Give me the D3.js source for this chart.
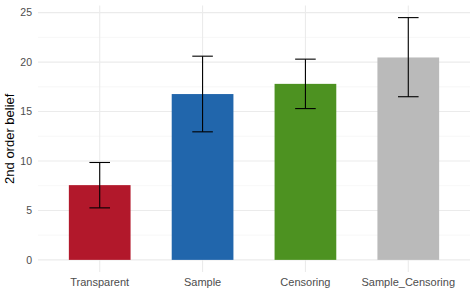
<!DOCTYPE html>
<html>
<head>
<meta charset="utf-8">
<script src="https://cdn.jsdelivr.net/npm/d3@7"></script>
<style>
  body { margin: 0; background: #fff; }
  svg { display: block; font-family: "Liberation Sans", Arial, sans-serif; }
</style>
</head>
<body>
<div id="chart"></div>
<script>
'use strict';

var categories = ['Transparent', 'Sample', 'Censoring', 'Sample_Censoring'];
var means = [7.56, 16.77, 17.8, 20.47];
var lower = [5.26, 12.95, 15.3, 16.5];
var upper = [9.85, 20.6, 20.3, 24.5];
var colors = ['#B2182B', '#2166AC', '#4D9221', '#BABABA'];
var yTicks = [0, 5, 10, 15, 20, 25];
var yMinor = [2.5, 7.5, 12.5, 17.5, 22.5];

var width = 476, height = 296;
var panel = { left: 38, right: 470, top: 5.5, bottom: 272 };

var svg = d3.select('#chart').append('svg')
	.attr('width', width)
	.attr('height', height);

// ggplot-style expansion: 5% on the continuous axis, 0.6 units on the discrete one
var yMax = d3.max(upper);
var yPad = yMax * 0.05;
var y = d3.scaleLinear()
	.domain([-yPad, yMax + yPad])
	.range([panel.bottom, panel.top]);

var x = d3.scaleLinear()
	.domain([0.4, categories.length + 0.6])
	.range([panel.left, panel.right]);

function cx(d, i) {
	return x(i + 1);
}

var grid = svg.append('g');

grid.selectAll('line.minor').data(yMinor).enter()
	.append('line')
	.attr('x1', panel.left).attr('x2', panel.right)
	.attr('y1', function (d) { return y(d); })
	.attr('y2', function (d) { return y(d); })
	.attr('stroke', '#F2F2F2')
	.attr('stroke-width', 0.6);

grid.selectAll('line.major').data(yTicks).enter()
	.append('line')
	.attr('x1', panel.left).attr('x2', panel.right)
	.attr('y1', function (d) { return y(d); })
	.attr('y2', function (d) { return y(d); })
	.attr('stroke', '#EBEBEB')
	.attr('stroke-width', 1.1);

grid.selectAll('line.vert').data(categories).enter()
	.append('line')
	.attr('x1', cx).attr('x2', cx)
	.attr('y1', panel.top).attr('y2', panel.bottom)
	.attr('stroke', '#EBEBEB')
	.attr('stroke-width', 1.1);

var barHalf = (x(1.3) - x(1)) ;

svg.append('g').selectAll('rect').data(means).enter()
	.append('rect')
	.attr('x', function (d, i) { return cx(d, i) - barHalf; })
	.attr('width', barHalf * 2)
	.attr('y', function (d) { return y(d); })
	.attr('height', function (d) { return y(0) - y(d); })
	.attr('fill', function (d, i) { return colors[i]; });

var capHalf = x(1.1) - x(1);
var errors = svg.append('g')
	.attr('stroke', '#000')
	.attr('stroke-width', 1.1)
	.attr('fill', 'none');

categories.forEach(function (c, i) {
	var px = x(i + 1);
	errors.append('line')
		.attr('x1', px).attr('x2', px)
		.attr('y1', y(lower[i])).attr('y2', y(upper[i]));
	[lower[i], upper[i]].forEach(function (v) {
		errors.append('line')
			.attr('x1', px - capHalf).attr('x2', px + capHalf)
			.attr('y1', y(v)).attr('y2', y(v));
	});
});

svg.append('g').selectAll('text').data(yTicks).enter()
	.append('text')
	.attr('x', panel.left - 6)
	.attr('y', function (d) { return y(d); })
	.attr('dy', '0.35em')
	.attr('text-anchor', 'end')
	.attr('font-size', 10.5)
	.attr('fill', '#4D4D4D')
	.text(function (d) { return d; });

svg.append('g').selectAll('text').data(categories).enter()
	.append('text')
	.attr('x', cx)
	.attr('y', 286)
	.attr('text-anchor', 'middle')
	.attr('font-size', 11)
	.attr('fill', '#4D4D4D')
	.text(function (d) { return d; });

svg.append('text')
	.attr('transform', 'translate(14,' + ((panel.top + panel.bottom) / 2) + ') rotate(-90)')
	.attr('text-anchor', 'middle')
	.attr('font-size', 13)
	.attr('fill', '#000')
	.text('2nd order belief');
</script>
</body>
</html>
